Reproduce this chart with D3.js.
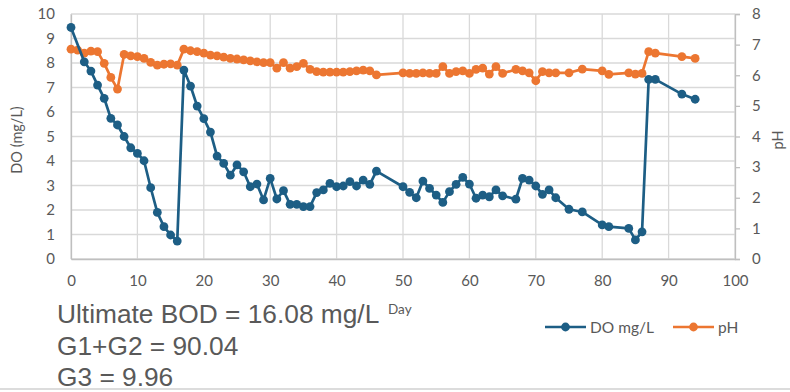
<!DOCTYPE html>
<html>
<head>
<meta charset="utf-8">
<script src="https://cdn.jsdelivr.net/npm/d3@7/dist/d3.min.js"></script>
<style>
  html, body { margin: 0; padding: 0; background: #fff; }
  svg { display: block; }
</style>
</head>
<body>
<svg id="chart" width="790" height="392"></svg>
<script>
// Dissolved oxygen readings by day (mg/L)
const doDays = [0, 2, 3, 4, 5, 6, 7, 8, 9, 10, 11, 12, 13, 14, 15, 16,
  17, 18, 19, 20, 21, 22, 23, 24, 25, 26, 27, 28, 29, 30, 31, 32, 33, 34, 35, 36,
  37, 38, 39, 40, 41, 42, 43, 44, 45, 46, 50, 51, 52, 53, 54, 55, 56, 57, 58,
  59, 60, 61, 62, 63, 64, 65, 67, 68, 69, 70, 71, 72, 73, 75, 77,
  80, 81, 84, 85, 86, 87, 88, 92, 94];
const doValues = [9.45, 8.05, 7.67, 7.1, 6.56, 5.74, 5.47, 5.0, 4.54, 4.31, 4.01, 2.91, 1.9, 1.32, 0.98, 0.73,
  7.71, 7.06, 6.24, 5.73, 5.18, 4.2, 3.9, 3.42, 3.84, 3.56, 2.95, 3.06, 2.41, 3.29, 2.45, 2.79, 2.23, 2.23, 2.14, 2.14,
  2.71, 2.82, 3.09, 2.95, 2.98, 3.16, 2.98, 3.22, 3.05, 3.59, 2.95, 2.72, 2.5, 3.18, 2.88, 2.61, 2.31, 2.75, 3.05,
  3.33, 3.06, 2.48, 2.61, 2.54, 2.82, 2.58, 2.44, 3.29, 3.22, 2.98, 2.64, 2.82, 2.5, 2.03, 1.92,
  1.39, 1.32, 1.25, 0.78, 1.11, 7.33, 7.33, 6.73, 6.52];

// pH readings by day
const phDays = [0, 1, 2, 3, 4, 5, 6, 7, 8, 9, 10, 11, 12, 13, 14, 15, 16,
  17, 18, 19, 20, 21, 22, 23, 24, 25, 26, 27, 28, 29, 30, 31, 32, 33, 34, 35, 36,
  37, 38, 39, 40, 41, 42, 43, 44, 45, 46, 50, 51, 52, 53, 54, 55, 56, 57, 58,
  59, 60, 61, 62, 63, 64, 65, 67, 68, 69, 70, 71, 72, 73, 75, 77,
  80, 81, 84, 85, 86, 87, 88, 92, 94];
const phValues = [6.85, 6.82, 6.72, 6.79, 6.77, 6.39, 5.93, 5.55, 6.68, 6.63, 6.61, 6.55, 6.42, 6.33, 6.36, 6.37, 6.33,
  6.85, 6.8, 6.77, 6.72, 6.66, 6.63, 6.59, 6.55, 6.53, 6.5, 6.47, 6.44, 6.41, 6.41, 6.23, 6.41, 6.23, 6.28, 6.39, 6.19,
  6.12, 6.1, 6.1, 6.1, 6.1, 6.12, 6.14, 6.17, 6.14, 6.01, 6.08, 6.06, 6.06, 6.08, 6.06, 6.06, 6.28, 6.06, 6.12,
  6.14, 6.06, 6.19, 6.23, 6.04, 6.28, 6.06, 6.19, 6.14, 6.08, 5.82, 6.12, 6.08, 6.08, 6.08, 6.2,
  6.14, 6.03, 6.08, 6.04, 6.06, 6.77, 6.72, 6.61, 6.55];

const xTicks = [0, 10, 20, 30, 40, 50, 60, 70, 80, 90, 100];
const doTicks = [0, 1, 2, 3, 4, 5, 6, 7, 8, 9, 10];
const phTicks = [0, 1, 2, 3, 4, 5, 6, 7, 8];

const notes = ["Ultimate BOD = 16.08 mg/L", "G1+G2 = 90.04", "G3 = 9.96"];
const seriesNames = ["DO mg/L", "pH"];

const blue = "#1d5e85";
const orange = "#ec7631";
const grid = "#d9d9d9";
const textGray = "#595959";
const axisFont = "Lato, 'Open Sans', sans-serif";

const svg = d3.select("#chart");

const plot = { left: 71, right: 735, top: 14, bottom: 259 };

const x = d3.scaleLinear().domain([0, 100]).range([plot.left, plot.right]);
const yDO = d3.scaleLinear().domain([0, 10]).range([plot.bottom, plot.top]);
const yPH = d3.scaleLinear().domain([0, 8]).range([plot.bottom, plot.top]);

// gridlines
const g = svg.append("g");
g.selectAll("line.h").data(doTicks).join("line")
  .attr("x1", plot.left).attr("x2", plot.right)
  .attr("y1", d => yDO(d)).attr("y2", d => yDO(d))
  .attr("stroke", grid).attr("stroke-width", 1.3);
g.selectAll("line.v").data(xTicks).join("line")
  .attr("x1", d => x(d)).attr("x2", d => x(d))
  .attr("y1", plot.top).attr("y2", plot.bottom)
  .attr("stroke", grid).attr("stroke-width", 1.3);

// bottom axis
const xAxis = svg.append("g").attr("transform", `translate(0,${plot.bottom})`)
  .call(d3.axisBottom(x).tickValues(xTicks).tickSize(0).tickPadding(16));
// left axis
const yAxisL = svg.append("g").attr("transform", `translate(${plot.left},0)`)
  .call(d3.axisLeft(yDO).tickValues(doTicks).tickSize(0).tickPadding(16));
// right axis
const yAxisR = svg.append("g").attr("transform", `translate(${plot.right},0)`)
  .call(d3.axisRight(yPH).tickValues(phTicks).tickSize(5).tickPadding(12));

[xAxis, yAxisL, yAxisR].forEach(a => {
  a.selectAll("path.domain").attr("stroke", "#bfbfbf").attr("stroke-width", 1.3);
  a.selectAll(".tick line").attr("stroke", "#bfbfbf").attr("stroke-width", 1.3);
  a.selectAll("text").attr("fill", textGray).attr("font-size", 15).attr("font-family", axisFont);
});

// axis titles
svg.append("text")
  .attr("transform", "translate(22,140) rotate(-90)")
  .attr("text-anchor", "middle")
  .attr("fill", textGray).attr("font-size", 14.5).attr("font-family", axisFont)
  .text("DO (mg/L)");
svg.append("text")
  .attr("transform", "translate(783,140) rotate(-90)")
  .attr("text-anchor", "middle")
  .attr("fill", textGray).attr("font-size", 14.5).attr("font-family", axisFont)
  .text("pH");
svg.append("text")
  .attr("x", 388).attr("y", 314)
  .attr("fill", textGray).attr("font-size", 13.5).attr("font-family", axisFont)
  .text("Day");

// series
function drawSeries(days, values, yScale, color) {
  const pts = days.map((d, i) => [d, values[i]]);
  const line = d3.line().x(d => x(d[0])).y(d => yScale(d[1]));
  svg.append("path").datum(pts)
    .attr("d", line).attr("fill", "none")
    .attr("stroke", color).attr("stroke-width", 2.7).attr("stroke-linejoin", "round");
  svg.append("g").selectAll("circle").data(pts).join("circle")
    .attr("cx", d => x(d[0])).attr("cy", d => yScale(d[1]))
    .attr("r", 4.4).attr("fill", color);
}
drawSeries(phDays, phValues, yPH, orange);
drawSeries(doDays, doValues, yDO, blue);

// legend
const legend = svg.append("g").attr("font-family", axisFont).attr("font-size", 15.5).attr("fill", textGray);
const legendItems = [
  { name: seriesNames[0], color: blue, x0: 545 },
  { name: seriesNames[1], color: orange, x0: 673 }
];
legendItems.forEach(it => {
  legend.append("line").attr("x1", it.x0).attr("x2", it.x0 + 41)
    .attr("y1", 327).attr("y2", 327).attr("stroke", it.color).attr("stroke-width", 2.7);
  legend.append("circle").attr("cx", it.x0 + 20.5).attr("cy", 327).attr("r", 4.4).attr("fill", it.color);
  legend.append("text").attr("x", it.x0 + 45).attr("y", 332.5).text(it.name);
});

// notes beneath the chart
svg.append("g").selectAll("text").data(notes).join("text")
  .attr("x", 57).attr("y", (d, i) => 323 + i * 31.5)
  .attr("fill", textGray).attr("font-size", 26.3)
  .attr("font-family", "'Liberation Sans', Arial, sans-serif")
  .text(d => d);

svg.append("line").attr("x1", 0).attr("x2", 790).attr("y1", 389).attr("y2", 389)
  .attr("stroke", "#d0d0d0").attr("stroke-width", 1.5);
</script>
</body>
</html>
